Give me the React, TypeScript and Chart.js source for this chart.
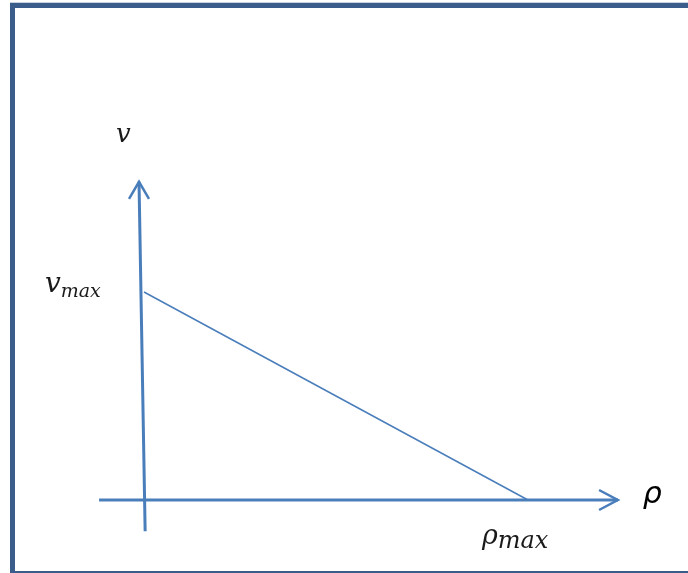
import React, { useEffect, useRef } from "react";
import { Chart, registerables } from "chart.js";

Chart.register(...registerables);

// Model values (normalised units)
const V_MAX = 1;
const RHO_MAX = 1;

// Greenshields relation: v falls linearly from v_max at rho = 0 to 0 at rho_max
const RHO_VALUES = [0, RHO_MAX];
const V_VALUES = [V_MAX, 0];

// Axis extents (in the same units)
const RHO_AXIS = [-0.117, 1.234];
const V_AXIS = [-0.15, 1.53];
const V_AXIS_X = [0.003, -0.013];

// Labels
const LABEL_V = "v";
const LABEL_RHO = "ρ";
const LABEL_MAIN_VMAX = "v";
const LABEL_MAIN_RHOMAX = "ρ";
const LABEL_SUB = "max";

const AXIS_COLOR = "#4A7EBB";
const FRAME_COLOR = "#3A5D8B";

export default function App() {
  const ref = useRef<HTMLCanvasElement | null>(null);

  useEffect(() => {
    if (!ref.current) return;

    const relation = RHO_VALUES.map((r, i) => ({ x: r, y: V_VALUES[i] }));
    const vAxis = V_AXIS.map((v, i) => ({ x: V_AXIS_X[i], y: v }));
    const rhoAxis = RHO_AXIS.map((r) => ({ x: r, y: 0 }));
    const tipV = vAxis[1];
    const upHead = [
      { x: tipV.x - 0.026, y: tipV.y - 0.082 },
      { x: tipV.x, y: tipV.y },
      { x: tipV.x + 0.026, y: tipV.y - 0.082 },
    ];
    const tipR = rhoAxis[1];
    const rightHead = [
      { x: tipR.x - 0.049, y: 0.048 },
      { x: tipR.x, y: 0 },
      { x: tipR.x - 0.049, y: -0.048 },
    ];

    const frame = {
      id: "frame",
      beforeDraw(chart: any) {
        const c = chart.ctx;
        c.save();
        c.fillStyle = "#ffffff";
        c.fillRect(0, 0, chart.width, chart.height);
        c.fillStyle = "#C9D3E0";
        c.fillRect(10, 2, chart.width - 10, 1);
        c.fillStyle = FRAME_COLOR;
        c.fillRect(10, 3, 5, chart.height - 3);
        c.fillRect(10, 3, chart.width - 10, 5);
        c.fillRect(10, chart.height - 2, chart.width - 10, 2);
        c.restore();
      },
    };

    const labels = {
      id: "labels",
      afterDatasetsDraw(chart: any) {
        const c = chart.ctx;
        const xs = chart.scales.x;
        const ys = chart.scales.y;
        const serifMain = (s: number) => `italic ${s}px "DejaVu Serif", serif`;
        const drawSub = (
          main: string,
          sub: string,
          px: number,
          py: number,
          mainSize: number,
          subSize: number,
          drop: number
        ) => {
          c.font = serifMain(mainSize);
          c.textBaseline = "alphabetic";
          c.textAlign = "left";
          c.fillStyle = "#1a1a1a";
          c.fillText(main, px, py);
          const w = c.measureText(main).width;
          c.font = serifMain(subSize);
          c.fillText(sub, px + w, py + drop);
        };
        c.save();
        // v axis title
        c.font = serifMain(26);
        c.fillStyle = "#1a1a1a";
        c.textAlign = "left";
        c.textBaseline = "alphabetic";
        c.fillText(LABEL_V, xs.getPixelForValue(-0.073), ys.getPixelForValue(V_AXIS[1] + 0.19));
        // rho axis title
        c.font = `italic 30px "DejaVu Sans", sans-serif`;
        c.fillStyle = "#000000";
        c.fillText(LABEL_RHO, xs.getPixelForValue(RHO_AXIS[1] + 0.065), ys.getPixelForValue(-0.015));
        // v_max
        drawSub(
          LABEL_MAIN_VMAX,
          LABEL_SUB,
          xs.getPixelForValue(-0.258),
          ys.getPixelForValue(V_MAX),
          28,
          19,
          5
        );
        // rho_max
        drawSub(
          LABEL_MAIN_RHOMAX,
          LABEL_SUB,
          xs.getPixelForValue(RHO_MAX - 0.12),
          ys.getPixelForValue(-0.21),
          27,
          24,
          4
        );
        c.restore();
      },
    };

    const lineDs = (data: any[], width: number) => ({
      data,
      borderColor: AXIS_COLOR,
      backgroundColor: AXIS_COLOR,
      borderWidth: width,
      pointRadius: 0,
      pointHoverRadius: 0,
      showLine: true,
      fill: false,
      tension: 0,
      clip: false as any,
      borderCapStyle: "butt" as const,
      borderJoinStyle: "miter" as const,
    });

    const chart = new Chart(ref.current, {
      type: "scatter",
      data: {
        datasets: [
          lineDs(relation, 1.5),
          lineDs(vAxis, 3),
          lineDs(upHead, 2.5),
          lineDs(rhoAxis, 3),
          lineDs(rightHead, 2.5),
        ],
      },
      options: {
        animation: false,
        responsive: false,
        devicePixelRatio: 1,
        layout: { padding: 0 },
        plugins: {
          legend: { display: false },
          tooltip: { enabled: false },
          title: { display: false },
        },
        events: [],
        scales: {
          x: { type: "linear", display: false, min: -0.375, max: 1.4167 },
          y: { type: "linear", display: false, min: -0.351, max: 2.404 },
        },
      },
      plugins: [frame, labels],
    });
    return () => chart.destroy();
  }, []);

  return (
    <div style={{ position: "fixed", left: 0, top: 0, width: 688, height: 573, background: "#fff" }}>
      <canvas ref={ref} width={688} height={573} style={{ display: "block" }} />
    </div>
  );
}
